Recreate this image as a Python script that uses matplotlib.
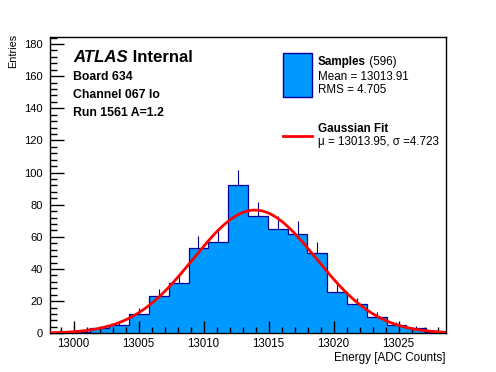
import numpy as np
import matplotlib
matplotlib.use("Agg")
import matplotlib.pyplot as plt
from matplotlib.ticker import MultipleLocator
from matplotlib.patches import Rectangle
from matplotlib.lines import Line2D

# ---- data ----
x_min, x_max = 12998.19, 13028.65
counts = [1, 1, 3, 5, 12, 23, 31, 53, 57, 92, 73, 65, 62, 50, 26, 18, 10, 5, 3, 1]
n_entries = 596
mean_val = 13013.91
rms_val = 4.705
fit_mu = 13013.95
fit_sigma = 4.723
x_ticks = [13000, 13005, 13010, 13015, 13020, 13025]
y_ticks = [0, 20, 40, 60, 80, 100, 120, 140, 160, 180]
y_top = 184.2

FONT = "Liberation Sans"
plt.rcParams['font.family'] = [FONT, 'DejaVu Sans']

W, H = 496, 372
fig = plt.figure(figsize=(W / 100, H / 100), dpi=100)
ax = fig.add_axes([50 / W, (H - 333.3) / H, (446 - 50) / W, (333.3 - 37.3) / H])

counts = np.array(counts, dtype=float)
edges = np.linspace(x_min, x_max, len(counts) + 1)
centers = 0.5 * (edges[:-1] + edges[1:])
bw = edges[1] - edges[0]

fill_col = '#0099ff'
edge_col = '#000099'

ax.bar(centers, counts, width=bw, color=fill_col, linewidth=0, zorder=1)
ax.stairs(counts, edges, baseline=None, color=edge_col, linewidth=0.9, zorder=2)
ax.vlines(centers, counts, counts + np.sqrt(counts), color=edge_col, linewidth=0.8, zorder=2)

xf = np.linspace(x_min, x_max, 500)
amp = n_entries * bw / (fit_sigma * np.sqrt(2 * np.pi))
yf = amp * np.exp(-0.5 * ((xf - fit_mu) / fit_sigma) ** 2)
ax.plot(xf, yf, color='#ff0000', linewidth=2.0, zorder=3)

ax.set_xlim(x_min, x_max)
ax.set_ylim(0, y_top)
ax.set_xticks(x_ticks)
ax.set_yticks(y_ticks)
ax.xaxis.set_minor_locator(MultipleLocator(1))
ax.yaxis.set_minor_locator(MultipleLocator(4))
ax.tick_params(which='both', direction='in', top=False, right=False, color='black', width=1.0)
ax.tick_params(axis='x', which='major', length=9, pad=3.5, labelsize=8.3)
ax.tick_params(axis='x', which='minor', length=4.5)
ax.tick_params(axis='y', which='major', length=10, pad=5, labelsize=8.0)
ax.tick_params(axis='y', which='minor', length=5)
for s in ax.spines.values():
    s.set_linewidth(1.0)


def fx(px):
    return px / W


def fy(py):
    return (H - py) / H


fig.text(fx(13.5), fy(34), 'Entries', rotation=90, ha='center', va='top', fontsize=7.8)
fig.text(fx(446), fy(357.5), 'Energy [ADC Counts]', ha='right', va='center', fontsize=8.4)

t1 = fig.text(fx(73), fy(57.3), 'ATLAS', ha='left', va='center', fontsize=12.1,
              fontstyle='italic', fontweight='bold')
ax.annotate(' Internal', xy=(1, 0), xycoords=t1, ha='left', va='bottom',
            fontsize=12.1, fontweight='bold')

fig.text(fx(73), fy(77.3), 'Board 634', ha='left', va='center', fontsize=8.8, fontweight='bold')
fig.text(fx(73), fy(95.5), 'Channel 067 lo', ha='left', va='center', fontsize=8.8, fontweight='bold')
fig.text(fx(73), fy(113.5), 'Run 1561 A=1.2', ha='left', va='center', fontsize=8.8, fontweight='bold')

# legend
fig.patches.append(Rectangle((fx(283.3), fy(96.7)), fx(311.7) - fx(283.3), fy(53.3) - fy(96.7),
                             transform=fig.transFigure, facecolor=fill_col, edgecolor=edge_col,
                             linewidth=1.0))
fig.lines.append(Line2D([fx(283.3), fx(311.7)], [fy(135.7), fy(135.7)], transform=fig.transFigure,
                        color='#ff0000', linewidth=2.0))
ts = fig.text(fx(317.5), fy(61.7), 'Samples', ha='left', va='center', fontsize=8.4, fontweight='bold')
ax.annotate(' (%d)' % n_entries, xy=(1, 0), xycoords=ts, ha='left', va='bottom', fontsize=8.4)
fig.text(fx(317.5), fy(76.5), 'Mean = %.2f' % mean_val, ha='left', va='center', fontsize=8.4)
fig.text(fx(317.5), fy(90.0), 'RMS = %.3f' % rms_val, ha='left', va='center', fontsize=8.4)
fig.text(fx(317.5), fy(129.3), 'Gaussian Fit', ha='left', va='center', fontsize=8.4, fontweight='bold')
fig.text(fx(317.5), fy(142.0), '\u03bc = %.2f, \u03c3 =%.3f' % (fit_mu, fit_sigma),
         ha='left', va='center', fontsize=8.4)

fig.savefig('out.png', dpi=100)
